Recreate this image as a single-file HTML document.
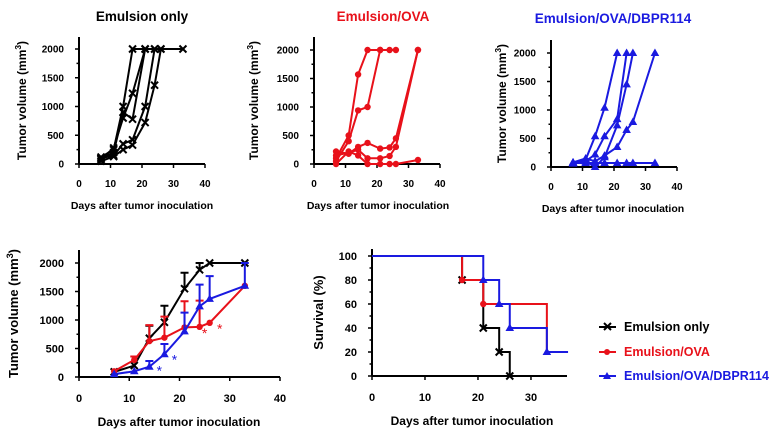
<!DOCTYPE html>
<html><head><meta charset="utf-8"><style>
body{margin:0;background:#fff}
svg{display:block;font-family:"Liberation Sans",Arial,sans-serif;font-weight:bold}
</style></head><body>
<svg id="fig" width="776" height="438" viewBox="0 0 776 438">
<text x="142" y="21" text-anchor="middle" font-size="13.5" fill="#000">Emulsion only</text>
<text x="383" y="21" text-anchor="middle" font-size="13.5" fill="#e8111a">Emulsion/OVA</text>
<text x="613" y="23" text-anchor="middle" font-size="13.5" fill="#1a1ae0">Emulsion/OVA/DBPR114</text>
<g id="legend">
<g><line x1="599" y1="327" x2="616" y2="327" stroke="#000" stroke-width="2"/><path d="M604 323l7 7M611 323l-7 7" stroke="#000" stroke-width="2"/><text x="624" y="331" font-size="12.5" fill="#000">Emulsion only</text></g>
<g><line x1="599" y1="352" x2="616" y2="352" stroke="#e8111a" stroke-width="2"/><circle cx="607" cy="352" r="3" fill="#e8111a"/><text x="624" y="356" font-size="12.5" fill="#e8111a">Emulsion/OVA</text></g>
<g><line x1="599" y1="376" x2="616" y2="376" stroke="#1a1ae0" stroke-width="2"/><path d="M607 372l4 7h-8z" fill="#1a1ae0"/><text x="624" y="380" font-size="12.5" fill="#1a1ae0">Emulsion/OVA/DBPR114</text></g>
</g>
</svg>
<script>
const days=[7,11,14,17,21,24,26,33];
const blackMice=[[7,120,11,250,14,1000,17,2000,21,2000,24,2000,26,2000,33,2000],[7,100,11,200,14,900,17,780,21,2000],[7,80,11,280,14,800,17,1230,21,2000],[7,100,11,150,14,350,17,420,21,1000,24,2000],[7,50,11,130,14,250,17,330,21,720,24,1370,26,2000]];
const redMice=[[7,100,11,500,14,1570,17,2000,21,2000,24,2000,26,2000],[7,50,11,400,14,940,17,1000,21,2000],[7,220,11,180,14,300,17,370,21,270,24,290,26,450,33,2000],[7,150,11,200,14,250,17,100,21,100,24,140,26,300,33,2000],[7,0,11,220,14,150,17,0,21,0,24,0,26,0,33,70]];
const blueMice=[[7,80,11,130,14,540,17,1040,21,2000],[7,80,11,100,14,220,17,540,21,840,24,2000],[7,60,11,100,14,0,17,170,21,730,24,1450,26,2000],[7,80,11,150,14,100,17,200,21,350,24,650,26,790,33,2000],[7,70,11,70,14,70,17,70,21,70,24,70,26,70,33,70]];
const blackMean=[90,200,680,960,1550,1880,2000,2000];
const blackErr=[0,0,220,290,280,120,0,0];
const redMean=[100,300,630,690,870,880,950,1600];
const redErr=[0,60,280,370,460,460,0,0];
const blueMean=[50,100,180,400,800,1240,1370,1600];
const blueErr=[0,0,100,180,330,380,400,400];
const redStars=[[25,810],[28,890]];
const blueStars=[[16,150],[19,340]];
const blackSurv=[[0,100],[17,100],[17,80],[21,80],[21,40],[24,40],[24,20],[26,20],[26,0]];
const blackSurvPts=[[17,80],[21,40],[24,20],[26,0]];
const redSurv=[[0,100],[17,100],[17,80],[21,80],[21,60],[33,60],[33,20]];
const redSurvPts=[[17,80],[21,60]];
const blueSurv=[[0,100],[21,100],[21,80],[24,80],[24,60],[26,60],[26,40],[33,40],[33,20],[37,20]];
const blueSurvPts=[[21,80],[24,60],[26,40],[33,20]];
const volTicks=[0,500,1000,1500,2000];
const dayTicks=[0,10,20,30,40];
const survTicks=[0,20,40,60,80,100];
const survDayTicks=[0,10,20,30];
const BLK='#000',RED='#e8111a',BLU='#1a1ae0';
const svg=document.getElementById('fig');
const NS='http://www.w3.org/2000/svg';
function mk(tag,at,parent){const e=document.createElementNS(NS,tag);for(const k in at)e.setAttribute(k,at[k]);(parent||svg).appendChild(e);return e;}
function axes(name,ox,x1,y0,yTop,yMax,ymaxVal,xmax,xt,yt,ytitle,ytx,o){
  const g=mk('g',{});
  
  
  const X=d=>ox+(x1-ox)*d/xmax, Y=v=>y0-(y0-yMax)*v/ymaxVal;
  mk('line',{x1:ox,y1:y0,x2:ox,y2:yTop,stroke:'#000','stroke-width':2},g);
  mk('line',{x1:ox,y1:y0,x2:x1,y2:y0,stroke:'#000','stroke-width':2},g);
  xt.forEach(t=>{mk('line',{x1:X(t),y1:y0,x2:X(t),y2:y0+4,stroke:'#000','stroke-width':1.5},g);
    const tx=mk('text',{x:X(t),y:y0+o.xtY,'text-anchor':'middle','font-size':o.tick},g);tx.textContent=t;
    
    });
  const step=yt[1]-yt[0];
  for(let v=0;Y(v)>=yTop;v+=step/2){mk('line',{x1:ox-(v%step===0?4:2.5),y1:Y(v),x2:ox,y2:Y(v),stroke:'#000','stroke-width':1.5},g);}
  yt.forEach(t=>{const tx=mk('text',{x:ox-o.ytOff,y:Y(t)+o.tick*0.36,'text-anchor':'end','font-size':o.tick},g);tx.textContent=t;
    
    });
  const xtl=mk('text',{x:o.xtitleX,y:y0+o.xtitleY,'text-anchor':'middle','font-size':o.title},g);
  xtl.textContent='Days after tumor inoculation';
  
  
  const cy=(y0+yTop)/2;
  const yl=mk('text',{x:ytx,y:cy,'text-anchor':'middle','font-size':o.ytitle,transform:`rotate(-90 ${ytx} ${cy})`},g);
  
  
  if(ytitle==='vol'){yl.innerHTML='Tumor volume (mm<tspan font-size="'+(o.ytitle*0.7)+'" dy="-5">3</tspan><tspan dy="5">)</tspan>';}else yl.textContent=ytitle;
  return {X,Y,g};
}
function marker(g,type,x,y,c){
  let p;
  if(type==='x'){p=mk('path',{d:`M${x-3.5} ${y-3.5}l7 7M${x+3.5} ${y-3.5}l-7 7`,stroke:c,'stroke-width':2},g);}
  else if(type==='o'){p=mk('circle',{cx:x,cy:y,r:3.2,fill:c},g);}
  else {p=mk('path',{d:`M${x} ${y-4.5}l4.3 7.5h-8.6z`,fill:c},g);}
  
  
}
function mice(ax,arr,c,type,name){
  arr.forEach((m,i)=>{const pts=[];for(let k=0;k<m.length;k+=2)pts.push([ax.X(m[k]),ax.Y(m[k+1])]);
    const pl=mk('polyline',{points:pts.map(p=>p.join(',')).join(' '),fill:'none',stroke:c,'stroke-width':2},ax.g);
    
    
    pts.forEach(p=>marker(ax.g,type,p[0],p[1],c));});
}
const topO=x=>({tick:10,ytOff:15,xtY:23,title:10.5,xtitleY:45,ytitle:12,xtitleX:x});
const botO=x=>({tick:11,ytOff:15,xtY:25,title:12,xtitleY:49,ytitle:13,xtitleX:x});
const p1=axes('panel-emulsion-only',79,205,164,37,49,2000,40,dayTicks,volTicks,'vol',26,topO(142));
mice(p1,blackMice,BLK,'x','emulsion-only');
const p2=axes('panel-emulsion-ova',314,440,164,37,50,2000,40,dayTicks,volTicks,'vol',258,topO(378));
mice(p2,redMice,RED,'o','emulsion-ova');
const p3=axes('panel-emulsion-ova-dbpr114',551,677,167,40,53,2000,40,dayTicks,volTicks,'vol',506,topO(613));
mice(p3,blueMice,BLU,'^','emulsion-ova-dbpr114');
const p4=axes('panel-mean-volume',79,280,377,250,263,2000,40,dayTicks,volTicks,'vol',18,botO(179));
function mean(ax,vals,errs,c,type,name){
  const pts=days.map((d,i)=>[ax.X(d),ax.Y(vals[i])]);
  vals.forEach((v,i)=>{if(errs[i]>0){const x=ax.X(days[i]),yt=ax.Y(v+errs[i]);
    const e=mk('path',{d:`M${x} ${ax.Y(v)}V${yt}M${x-4} ${yt}h8`,stroke:c,'stroke-width':2,fill:'none'},ax.g);
    
    }});
  const pl=mk('polyline',{points:pts.map(p=>p.join(',')).join(' '),fill:'none',stroke:c,'stroke-width':2},ax.g);
  
  
  pts.forEach(p=>marker(ax.g,type,p[0],p[1],c));
}
mean(p4,blackMean,blackErr,BLK,'x','emulsion-only');
mean(p4,redMean,redErr,RED,'o','emulsion-ova');
mean(p4,blueMean,blueErr,BLU,'^','emulsion-ova-dbpr114');
[[redStars,RED],[blueStars,BLU]].forEach(([s,c])=>s.forEach(p=>{const t=mk('text',{x:p4.X(p[0]),y:p4.Y(p[1])+7,'text-anchor':'middle','font-size':14,fill:c,'font-weight':'normal'},p4.g);t.textContent='*';
  
  }));
const p5=axes('panel-survival',372,567,376,249,256,100,36.8,survDayTicks,survTicks,'Survival (%)',323,botO(472));
surv(p5,blackSurv,blackSurvPts,BLK,'x','emulsion-only');
surv(p5,redSurv,redSurvPts,RED,'o','emulsion-ova');
surv(p5,blueSurv,blueSurvPts,BLU,'^','emulsion-ova-dbpr114');
function surv(ax,line,pts,c,type,name){
  const pl=mk('polyline',{points:line.map(p=>ax.X(p[0])+','+ax.Y(p[1])).join(' '),fill:'none',stroke:c,'stroke-width':2},ax.g);
  
  
  pts.forEach(p=>marker(ax.g,type,ax.X(p[0]),ax.Y(p[1]),c));
}
</script>
</body></html>
